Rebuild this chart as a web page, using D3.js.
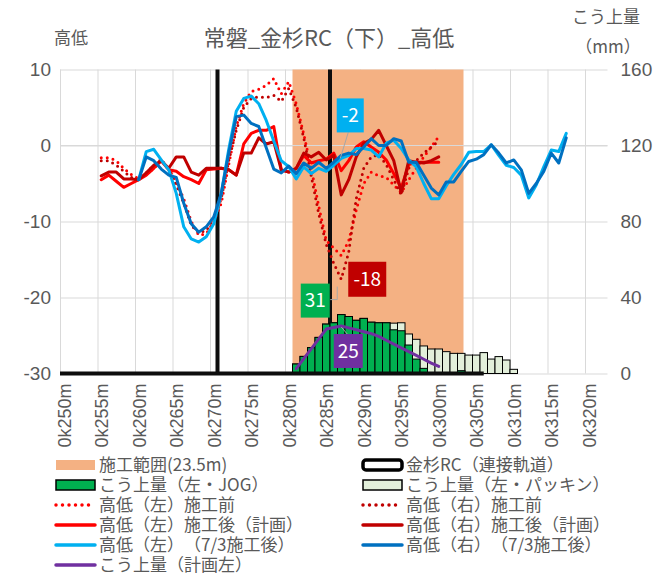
<!DOCTYPE html>
<html><head><meta charset="utf-8">
<script src="https://cdn.jsdelivr.net/npm/d3@7/dist/d3.min.js"></script>
<style>
body{margin:0;background:#fff;}
svg{display:block;font-family:"Noto Sans CJK JP","Noto Sans",sans-serif;text-spacing-trim:space-all;font-feature-settings:"chws" 0,"halt" 0;}
</style>
</head><body>
<svg id="c" width="669" height="573"></svg>
<script>
// ---------------- data ----------------
const kmStart = 250, kmEnd = 322;
const tickKm = d3.range(250, 321, 5);
const tickLabels = tickKm.map(k => `0k${k}m`);
const leftTicks = [10, 0, -10, -20, -30];
const rightTicks = [160, 120, 80, 40, 0];

const constructionKm = [280.5, 303.3];
const rcLineKm = [270.5, 285.5];
const rcBaseKm = [250, 306];

const redKm = d3.range(255, 301);
const leftBefore = [-1.6,-1.6,-2.0,-3.0,-3.8,-4.4,-3.8,-3.0,-2.0,-3.0,-4.8,-7.0,-10.0,-11.8,-11.6,-10.0,-7.6,-2.5,
  2.5,5.5,7.1,7.4,7.9,8.8,6.8,8.4,5.5,1.5,-3.0,-8.0,-12.5,-13.5,-14.5,-12.5,-8.5,-5.0,-3.5,-4.0,-4.2,-5.2,-6.2,-4.5,-3.0,-1.5,-0.2,1.2];
const rightBefore = [-2.0,-2.0,-2.6,-3.4,-4.2,-4.5,-3.6,-2.6,-1.8,-3.2,-5.2,-7.6,-10.5,-11.5,-11.2,-9.6,-7.0,-2.0,
  2.0,5.0,6.2,6.4,6.3,6.6,5.8,7.5,5.0,1.0,-4.0,-9.0,-13.0,-15.5,-17.6,-14.0,-7.0,-3.0,-1.5,-1.2,-2.5,-4.5,-6.5,-3.0,-2.0,-1.0,-0.2,0.6];
const leftPlan = [-4.5,-3.9,-4.7,-5.5,-5.0,-4.5,-3.9,-3.0,-2.0,-3.2,-3.4,-4.1,-4.5,-5.0,-3.2,-3.1,-3.0,-3.2,-3.9,
  0.2,1.6,2.0,2.0,2.5,-3.2,-3.5,-3.0,-1.3,-2.3,-2.0,-1.8,-1.0,-3.3,-2.0,-0.2,0.5,-0.2,-0.9,-1.9,-3.7,-5.6,-2.5,-2.2,-2.2,-2.2,-2.2];
const rightPlan = [-4.0,-3.5,-3.5,-4.4,-4.4,-4.5,-3.6,-2.6,-2.0,-3.0,-1.5,-1.5,-3.5,-3.9,-3.0,-3.0,-3.0,-3.2,-3.9,
  -1.0,-1.0,1.0,0.2,0.5,-3.2,-3.5,-3.0,-1.0,-1.5,-0.9,-1.9,-1.3,-6.5,-4.5,-1.5,0.3,0.8,2.0,0.0,-2.0,-6.2,-2.0,-2.2,-2.3,-2.0,-1.5];

const blueKm = d3.range(260, 318);
const leftAfter = [-4.5,-0.8,-0.5,-1.9,-3.2,-6.3,-10.7,-12.3,-12.7,-12.0,-10.3,-6.3,-0.5,4.5,6.2,6.5,5.5,3.3,0.6,-2.0,
  -2.8,-4.4,-2.8,-3.7,-3.0,-3.4,-2.6,-1.7,-1.3,-0.4,-0.4,-0.6,-1.5,0.3,0.7,-0.4,-1.9,-2.8,-5.0,-7.0,
  -7.0,-5.3,-3.8,-2.5,-0.9,-0.8,-0.8,0.1,-1.3,-2.6,-2.9,-3.9,-6.9,-5.2,-2.8,-0.6,-0.8,1.6];
const rightAfter = [-4.5,-1.5,-2.0,-3.1,-3.9,-4.2,-7.6,-10.3,-11.4,-10.7,-9.4,-6.3,-1.0,3.8,4.0,2.9,2.5,-0.3,-3.1,-3.6,
  -2.7,-3.7,-2.3,-3.0,-2.2,-3.0,-2.2,-1.3,-1.0,-1.2,-0.2,0.9,0.0,0.0,0.9,0.6,-2.2,-2.2,-3.9,-5.6,
  -6.5,-4.8,-4.8,-3.4,-2.1,-1.8,-1.2,0.1,-1.0,-2.3,-1.9,-3.2,-6.3,-5.0,-3.4,-1.0,-2.3,1.0];

const barKm = d3.range(281, 311);
const liftJOG = [5,9,13.6,19,26,26.7,31,30,28,29,27,26.7,26.7,23,22.5,15,7.6,2.7,0,0,0,0,1.5,0,0,0,0,0,0,0];
const liftPacking = [5,9,13.6,19,26,26.7,31,30,28,29,27,26.7,26.7,26.5,26.7,20.8,18,14.5,12.9,12.9,11.5,10.6,10.6,9.7,9.7,11.0,7.6,8.9,7.1,2.2];

const planKm = d3.range(281, 301);
const liftPlan = [2.6,7.8,13,18.2,23.4,24.2,25,24,23,22,21,19.5,17.5,15.5,13.5,11.5,9.5,7.5,5.5,3.7];

const labelKm = 287;

const legendLabels = ["施工範囲(23.5m)","金杉RC（連接軌道）","こう上量（左・JOG）","こう上量（左・パッキン）",
  "高低（左）施工前","高低（右）施工前","高低（左）施工後（計画）","高低（右）施工後（計画）",
  "高低（左）（7/3施工後）","高低（右）（7/3施工後）","こう上量（計画左）"];

// ---------------- drawing ----------------
const svg = d3.select('#c');
const P = {left:60, right:607.5, top:69.5, bottom:373.5};
const x = d3.scaleLinear().domain([kmStart-0.5, kmEnd+0.5]).range([P.left, P.right]);
const yL = d3.scaleLinear().domain([-30, 10]).range([P.bottom, P.top]);
const yR = d3.scaleLinear().domain([0, 160]).range([P.bottom, P.top]);
const grid = '#D9D9D9', txt = '#595959';
const C = {orange:'#F4B183', red:'#FF0000', dred:'#C00000', lblue:'#00B0F0', blue:'#0070C0',
  purple:'#7030A0', green:'#00B050', lgreen:'#E2EFDA', rc:'#0D0D0D'};

// horizontal grid + left labels
const gL = svg.append('g').attr('transform',`translate(${P.left},0)`)
  .call(d3.axisLeft(yL).tickValues(leftTicks).tickSize(-(P.right-P.left)).tickPadding(9).tickFormat(d=>String(d)));
gL.select('.domain').remove();
gL.selectAll('line').attr('stroke',grid);
gL.selectAll('text').attr('fill',txt).style('font-size','19px').style('font-family','inherit');

// vertical grid
const gV = svg.append('g').attr('transform',`translate(0,${P.bottom})`)
  .call(d3.axisBottom(x).tickValues(tickKm.map(k=>k-0.5)).tickSize(-(P.bottom-P.top)).tickFormat(''));
gV.select('.domain').remove();
gV.selectAll('line').attr('stroke',grid);

// right labels
const gR = svg.append('g').attr('transform',`translate(${P.right},0)`)
  .call(d3.axisRight(yR).tickValues(rightTicks).tickSize(0).tickPadding(13));
gR.select('.domain').remove();
gR.selectAll('text').attr('fill',txt).style('font-size','19px').style('font-family','inherit');

// x labels
const gX = svg.append('g').attr('transform',`translate(0,${P.bottom})`)
  .call(d3.axisBottom(x).tickValues(tickKm).tickSize(0).tickFormat((d,i)=>tickLabels[i]));
gX.select('.domain').remove();
gX.selectAll('text').attr('fill',txt).style('font-size','18px').style('font-family','inherit')
  .attr('text-anchor','end').attr('dy','0.35em').attr('transform','translate(0,10) rotate(-90)').attr('x',0).attr('y',0);

// construction range
svg.append('rect').attr('x',x(constructionKm[0])).attr('y',P.top)
  .attr('width',x(constructionKm[1])-x(constructionKm[0])).attr('height',P.bottom-P.top).attr('fill',C.orange);
// zero axis line
svg.append('line').attr('x1',P.left).attr('x2',P.right).attr('y1',yL(0)).attr('y2',yL(0)).attr('stroke',grid);

// RC
rcLineKm.forEach(k=>{
  svg.append('line').attr('x1',x(k)).attr('x2',x(k)).attr('y1',P.top).attr('y2',P.bottom)
    .attr('stroke',C.rc).attr('stroke-width',4);
});

// bars
function bars(vals, fill){
  svg.append('g').selectAll('rect').data(barKm.map((k,i)=>({k, v:vals[i]})).filter(d=>d.v>0)).join('rect')
    .attr('x',d=>x(d.k-0.5)).attr('width',d=>x(d.k+0.5)-x(d.k-0.5))
    .attr('y',d=>yR(d.v)).attr('height',d=>yR(0)-yR(d.v))
    .attr('fill',fill).attr('stroke','#000').attr('stroke-width',1);
}
bars(liftPacking, C.lgreen);
bars(liftJOG, C.green);

// RC baseline
svg.append('line').attr('x1',x(rcBaseKm[0]-0.5)).attr('x2',x(rcBaseKm[1])).attr('y1',yL(-30)).attr('y2',yL(-30))
  .attr('stroke',C.rc).attr('stroke-width',4);

// lines
function drawLine(kms, vals, color, dotted, ys){
  const line = d3.line().x(d=>x(d.k)).y(d=>ys(d.v));
  const p = svg.append('path').datum(kms.map((k,i)=>({k, v:vals[i]})))
    .attr('d',line).attr('fill','none').attr('stroke',color).attr('stroke-width',3)
    .attr('stroke-linejoin','round').attr('stroke-linecap','round');
  if (dotted) p.attr('stroke-dasharray','0 6');
}
drawLine(redKm, leftBefore, C.red, true, yL);
drawLine(redKm, rightBefore, C.dred, true, yL);
drawLine(redKm, leftPlan, C.red, false, yL);
drawLine(redKm, rightPlan, C.dred, false, yL);
drawLine(blueKm, leftAfter, C.lblue, false, yL);
drawLine(blueKm, rightAfter, C.blue, false, yL);
drawLine(planKm, liftPlan, C.purple, false, yR);

// data labels at labelKm
function label(cx, cy, w, h, color, text, leader){
  if (leader) svg.append('polyline').attr('points',leader.map(p=>p.join(',')).join(' '))
    .attr('fill','none').attr('stroke','#A6A6A6').attr('stroke-width',1);
  svg.append('rect').attr('x',cx-w/2).attr('y',cy-h/2).attr('width',w).attr('height',h).attr('fill',color);
  svg.append('text').attr('x',cx).attr('y',cy).attr('dy','0.36em').attr('text-anchor','middle')
    .attr('fill','#fff').style('font-size','19px').text(text);
}
const fmt = v => String(Math.round(v));
{
  const px = x(labelKm);
  const vLB = leftAfter[blueKm.indexOf(labelKm)];
  const pyLB = yL(vLB);
  label(px+9, pyLB-43, 27, 34, C.lblue, fmt(vLB), [[px+7, pyLB-26],[px-1, pyLB]]);
  const vRB = rightBefore[redKm.indexOf(labelKm)];
  const pyRB = yL(vRB);
  label(px+26, pyRB, 38, 35, C.dred, fmt(vRB));
  const vJ = liftJOG[barKm.indexOf(labelKm)];
  const pyJ = yR(vJ);
  label(px-26, pyJ-14, 29, 34, C.green, fmt(vJ), [[px-11, pyJ-15],[px-4, pyJ-15],[px-4, pyJ-28]]);
  const vP = liftPlan[planKm.indexOf(labelKm)];
  const pyP = yR(vP);
  label(px+7, pyP+25, 29, 34, C.purple, fmt(vP), [[px, pyP+1],[px+6, pyP+8]]);
}

// titles
svg.append('text').attr('x',329).attr('y',38).attr('dy','0.35em').attr('text-anchor','middle')
  .attr('fill',txt).style('font-size','22px').text('常磐_金杉RC（下）_高低');
svg.append('text').attr('x',71).attr('y',38).attr('dy','0.35em').attr('text-anchor','middle')
  .attr('fill',txt).style('font-size','17px').text('高低');
svg.append('text').attr('x',606).attr('y',17).attr('dy','0.35em').attr('text-anchor','middle')
  .attr('fill',txt).style('font-size','17px').text('こう上量');
svg.append('text').attr('x',608).attr('y',47).attr('dy','0.35em').attr('text-anchor','middle')
  .attr('fill',txt).style('font-size','17px').text('（mm）');

// legend
const legendStyle = [
  {t:'rect', fill:C.orange, stroke:'none'},
  {t:'rect', fill:'#fff', stroke:'#000', sw:3.5, rx:3},
  {t:'rect', fill:C.green, stroke:'#000', sw:1.5},
  {t:'rect', fill:C.lgreen, stroke:'#000', sw:1.5},
  {t:'line', color:C.red, dot:true},
  {t:'line', color:C.dred, dot:true},
  {t:'line', color:C.red},
  {t:'line', color:C.dred},
  {t:'line', color:C.lblue},
  {t:'line', color:C.blue},
  {t:'line', color:C.purple},
];
const colX = [55, 362], rowY0 = 465, rowH = 20, symW = 41;
legendLabels.forEach((lab, i)=>{
  const col = i % 2, row = Math.floor(i/2);
  const lx = colX[col], ly = rowY0 + row*rowH;
  const s = legendStyle[i];
  const g = svg.append('g');
  if (s.t==='rect') {
    g.append('rect').attr('x',lx+1).attr('y',ly-5).attr('width',symW-2).attr('height',10)
      .attr('fill',s.fill).attr('stroke',s.stroke).attr('stroke-width',s.sw||0).attr('rx',s.rx||0);
  } else {
    const l = g.append('line').attr('x1',lx+1).attr('x2',lx+symW-1).attr('y1',ly).attr('y2',ly)
      .attr('stroke',s.color).attr('stroke-width',3.5).attr('stroke-linecap','round');
    if (s.dot) l.attr('stroke-dasharray','0 6.5');
  }
  g.append('text').attr('x',lx+symW+3).attr('y',ly).attr('dy','0.35em').attr('fill',txt)
    .style('font-size','17px').text(lab);
});
</script>
</body></html>
